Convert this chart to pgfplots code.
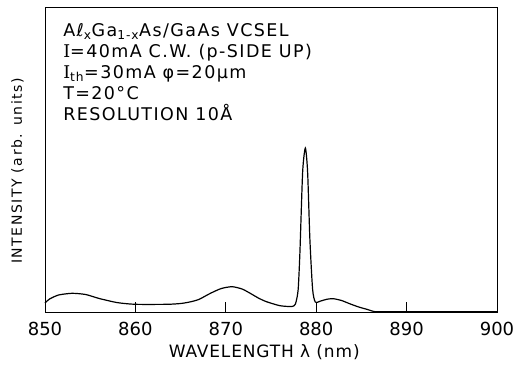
\documentclass[border=0pt]{standalone}
\usepackage{fontspec}
\setmainfont{DejaVu Sans}
\newfontfamily\boxfont[LetterSpace=8]{DejaVu Sans}
\newfontfamily\serifI{DejaVu Serif}
\newfontfamily\ylfont[LetterSpace=11]{DejaVu Sans}
\newfontfamily\xlfont[LetterSpace=5]{DejaVu Sans}
\usepackage{pgfplots}
\pgfplotsset{compat=1.18}
\begin{document}
\begin{tikzpicture}
\begin{axis}[
  scale only axis, width=452pt, height=305pt,
  xmin=850, xmax=900, ymin=0, ymax=305,
  xtick={850,860,...,900}, ytick=\empty,
  tick align=inside, xtick pos=bottom, major tick length=10.5pt,
  axis line style={line width=0.8pt},
  tick style={line width=0.8pt, black},
  /pgf/number format/assume math mode=true,
  xticklabel style={font=\fontsize{18}{18}\selectfont, yshift=-7pt},
  xlabel={WAVELENGTH λ (nm)},
  ylabel={INTENSITY (arb. units)},
  xlabel style={font=\xlfont\fontsize{17}{17}\selectfont, at={(axis description cs:0.485,-0.131)}, anchor=center},
  ylabel style={font=\ylfont\fontsize{14}{14}\selectfont, at={(axis description cs:-0.061,0.462)}, anchor=center},
  clip=false,
]
\addplot[black, line width=1.2pt, smooth, tension=0.4] coordinates {
(850.0,9) (850.5,13) (851.5,17) (853.0,18.7) (854.5,17.5) (856.0,13.5)
(858.0,9.4) (860.0,7.7) (863.5,7.7) (865.0,8.5) (866.0,10) (867.0,12.5)
(868.3,18.7) (869.5,23.5) (870.7,25.3) (871.8,23) (872.7,18.7) (873.6,14)
(874.5,10.3) (876.0,6.3) (877.3,5.5) (877.7,8) (878.0,22) (878.2,60)
(878.5,140) (878.8,164) (879.05,140) (879.3,73) (879.6,23) (879.9,10)
(880.5,11) (881.2,12.8) (881.9,13.3) (882.8,11.5) (883.7,8.3) (884.7,5)
(885.6,2.7) (886.3,0.7) (887.0,0.3) (893.0,0.3) (900.0,0.3)
};
\node[anchor=north west, align=left, inner sep=0pt, font=\boxfont\fontsize{17.5}{20.8}\selectfont]
  at (rel axis cs:0.04,0.945)
  {Aℓ\textsubscript{x}Ga\textsubscript{1-x}As/GaAs VCSEL\\
   {\serifI I}=40mA C.W. (p-SIDE UP)\\
   {\serifI I}\textsubscript{th}=30mA φ=20μm\\
   T=20°C\\
   RESOLUTION 10Å};
\end{axis}
\path (current axis.south west) ++(-45pt,-53pt) coordinate (bbA);
\path (current axis.north east) ++(21pt,7pt) coordinate (bbB);
\useasboundingbox (bbA) rectangle (bbB);
\end{tikzpicture}
\end{document}
